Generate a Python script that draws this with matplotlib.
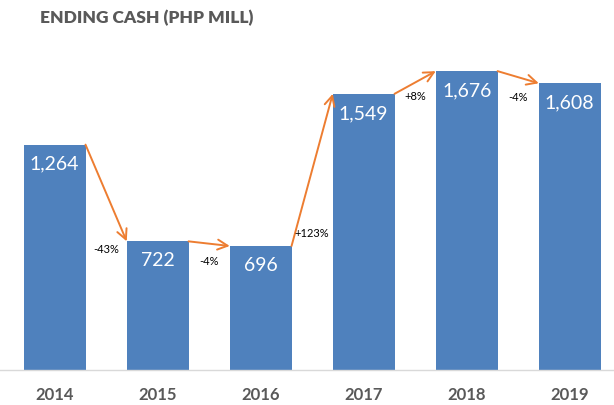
import matplotlib.pyplot as plt
import numpy as np

plt.rcParams['font.family'] = ['Lato', 'DejaVu Sans']

years = ['2014', '2015', '2016', '2017', '2018', '2019']
cash = [1264, 722, 696, 1549, 1676, 1608]

# vertical nudge (points) of the % change labels
pct_dy = [-6, -11, 9, -2, -10]

fig = plt.figure(figsize=(6.14, 4.05), dpi=100)
ax = fig.add_axes([0, 0.086, 1, 0.815])

x = np.arange(len(years))
w = 0.6
ax.bar(x, cash, w, color='#4F81BD', zorder=2)

for i, v in enumerate(cash):
    ax.annotate(f'{v:,}', (x[i], v), xytext=(0, -8), textcoords='offset points',
                ha='center', va='top', color='white', fontsize=14)

for i in range(len(cash) - 1):
    a, b = cash[i], cash[i + 1]
    ax.annotate('', xy=(x[i + 1] - w / 2, b), xytext=(x[i] + w / 2, a),
                arrowprops=dict(arrowstyle='->', color='#ED7D31', lw=1.4,
                                mutation_scale=18, shrinkA=0, shrinkB=0),
                zorder=3)
    pct = round((b / a - 1) * 100)
    ax.annotate(f'{pct:+d}%', ((x[i] + x[i + 1]) / 2, min(a, b)),
                xytext=(0, pct_dy[i]), textcoords='offset points',
                ha='center', va='center', fontsize=8, color='black')

ax.set_xlim(-0.53, 5.43)
ax.set_ylim(0, 1850)
ax.set_xticks(x)
ax.set_xticklabels(years, fontsize=12, fontweight='bold', color='#595959')
ax.tick_params(axis='x', length=0, pad=12)
ax.set_yticks([])
for s in ['top', 'right', 'left']:
    ax.spines[s].set_visible(False)
ax.spines['bottom'].set_color('#D9D9D9')
ax.spines['bottom'].set_linewidth(1)

fig.text(0.065, 0.955, 'ENDING CASH (PHP MILL)', fontsize=12.5, fontweight='heavy',
         color='#595959', ha='left', va='center')

fig.savefig('out.png', dpi=100)
